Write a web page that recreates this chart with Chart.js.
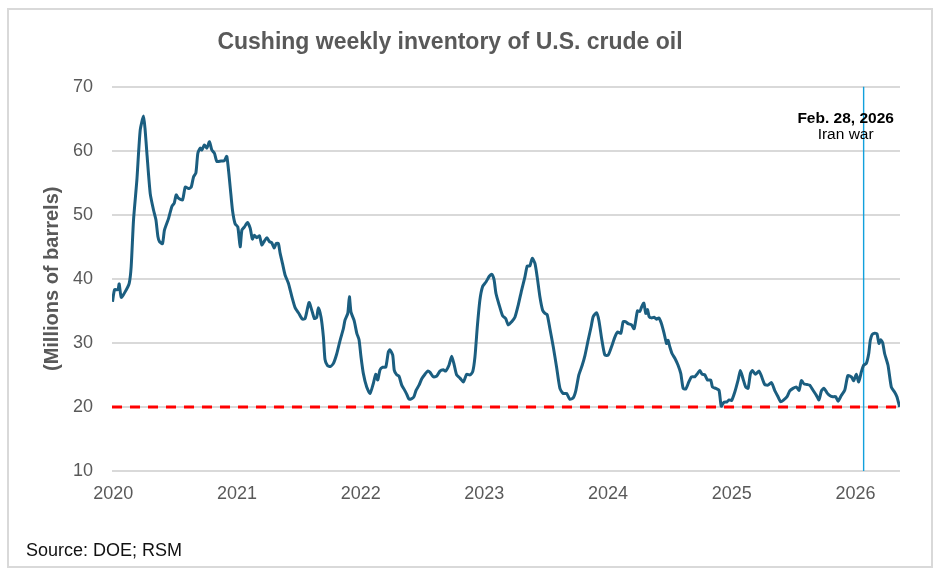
<!DOCTYPE html>
<html>
<head>
<meta charset="utf-8">
<title>Cushing weekly inventory of U.S. crude oil</title>
<script src="https://cdn.jsdelivr.net/npm/chart.js@4.4.1/dist/chart.umd.min.js"></script>
<style>
  body { margin: 0; background: #fff; }
  #wrap { position: relative; width: 942px; height: 580px; }
  #frame { position: absolute; left: 7px; top: 8px; width: 926px; height: 560px;
           border: 2px solid #d9d9d9; box-sizing: border-box; }
  #source { position: absolute; left: 26px; top: 541px; font: 18px/18px "Liberation Sans", Arial, sans-serif; color: #111; }
  canvas { position: absolute; left: 0; top: 0; }
</style>
</head>
<body>
<div id="wrap">
  <div id="frame"></div>
  <canvas id="myChart" width="942" height="580"></canvas>
  <div id="source">Source: DOE; RSM</div>
</div>
<script>
// weekly readings, x as decimal year
var weekYear = [
  2019.994, 2020.011, 2020.038, 2020.048, 2020.065, 2020.097, 2020.129, 2020.145, 2020.164, 2020.191,
  2020.218, 2020.245, 2020.258, 2020.272, 2020.299, 2020.326, 2020.345, 2020.361, 2020.374, 2020.398,
  2020.414, 2020.447, 2020.474, 2020.493, 2020.509, 2020.527, 2020.560, 2020.582, 2020.608, 2020.630,
  2020.649, 2020.668, 2020.684, 2020.703, 2020.716, 2020.737, 2020.757, 2020.778, 2020.797, 2020.818,
  2020.838, 2020.872, 2020.897, 2020.918, 2020.945, 2020.964, 2020.985, 2021.007, 2021.026, 2021.040,
  2021.061, 2021.085, 2021.107, 2021.125, 2021.141, 2021.161, 2021.182, 2021.201, 2021.222, 2021.242,
  2021.263, 2021.282, 2021.301, 2021.317, 2021.335, 2021.349, 2021.368, 2021.389, 2021.416, 2021.444,
  2021.470, 2021.497, 2021.529, 2021.551, 2021.583, 2021.605, 2021.626, 2021.645, 2021.658, 2021.680,
  2021.699, 2021.712, 2021.731, 2021.753, 2021.780, 2021.807, 2021.834, 2021.860, 2021.874, 2021.896,
  2021.909, 2021.922, 2021.947, 2021.969, 2021.987, 2022.003, 2022.022, 2022.049, 2022.076, 2022.103,
  2022.122, 2022.138, 2022.157, 2022.179, 2022.203, 2022.224, 2022.237, 2022.259, 2022.272, 2022.292,
  2022.310, 2022.332, 2022.353, 2022.372, 2022.391, 2022.413, 2022.431, 2022.448, 2022.472, 2022.494,
  2022.520, 2022.542, 2022.561, 2022.587, 2022.615, 2022.641, 2022.668, 2022.687, 2022.714, 2022.736,
  2022.757, 2022.776, 2022.803, 2022.830, 2022.857, 2022.884, 2022.906, 2022.924, 2022.943, 2022.964,
  2022.986, 2023.013, 2023.040, 2023.059, 2023.078, 2023.094, 2023.120, 2023.148, 2023.172, 2023.193,
  2023.221, 2023.247, 2023.274, 2023.301, 2023.328, 2023.347, 2023.368, 2023.387, 2023.409, 2023.427,
  2023.449, 2023.471, 2023.490, 2023.508, 2023.530, 2023.557, 2023.584, 2023.611, 2023.637, 2023.665,
  2023.691, 2023.718, 2023.740, 2023.764, 2023.791, 2023.813, 2023.839, 2023.864, 2023.880, 2023.907,
  2023.926, 2023.948, 2023.974, 2024.001, 2024.028, 2024.055, 2024.077, 2024.103, 2024.122, 2024.141,
  2024.162, 2024.190, 2024.211, 2024.238, 2024.257, 2024.271, 2024.289, 2024.305, 2024.319, 2024.332,
  2024.351, 2024.372, 2024.392, 2024.410, 2024.432, 2024.453, 2024.473, 2024.485, 2024.499, 2024.518,
  2024.540, 2024.566, 2024.588, 2024.607, 2024.628, 2024.653, 2024.675, 2024.701, 2024.723, 2024.742,
  2024.760, 2024.782, 2024.804, 2024.830, 2024.844, 2024.871, 2024.897, 2024.915, 2024.935, 2024.962,
  2024.978, 2024.998, 2025.024, 2025.051, 2025.070, 2025.091, 2025.113, 2025.132, 2025.151, 2025.167,
  2025.191, 2025.221, 2025.240, 2025.267, 2025.293, 2025.321, 2025.347, 2025.374, 2025.396, 2025.420,
  2025.447, 2025.469, 2025.495, 2025.523, 2025.544, 2025.563, 2025.584, 2025.608, 2025.630, 2025.657,
  2025.684, 2025.705, 2025.725, 2025.746, 2025.770, 2025.792, 2025.818, 2025.840, 2025.859, 2025.886,
  2025.913, 2025.939, 2025.967, 2025.986, 2026.007, 2026.026, 2026.048, 2026.066, 2026.088, 2026.107,
  2026.120, 2026.135, 2026.155, 2026.174, 2026.190, 2026.204, 2026.220, 2026.236, 2026.263, 2026.290,
  2026.317, 2026.335, 2026.357
];

// millions of barrels
var stocks = [
  36.4, 38.3, 38.3, 39.2, 37.1, 38.0, 39.3, 41.9, 49.2, 55.4,
  63.2, 65.4, 63.2, 59.6, 53.3, 50.7, 49.2, 46.6, 45.8, 45.5,
  47.6, 49.4, 51.3, 51.8, 53.1, 52.6, 52.3, 54.3, 54.1, 54.3,
  55.9, 56.5, 59.6, 60.4, 60.1, 60.9, 60.4, 61.4, 60.1, 59.6,
  58.3, 58.4, 58.4, 59.1, 54.4, 50.7, 48.6, 48.1, 45.0, 47.6,
  48.1, 48.8, 47.9, 46.2, 46.8, 46.4, 46.7, 45.3, 45.9, 46.4,
  45.8, 45.6, 44.8, 45.5, 45.5, 44.0, 42.4, 40.6, 39.3, 37.2,
  35.5, 34.7, 33.7, 33.8, 36.3, 35.1, 33.8, 34.0, 35.5, 34.0,
  30.9, 27.4, 26.5, 26.3, 26.8, 28.3, 30.4, 32.2, 33.6, 34.6,
  37.2, 34.8, 33.5, 31.5, 30.5, 27.8, 25.2, 23.1, 22.1, 23.7,
  25.1, 24.2, 25.8, 26.2, 26.2, 28.6, 28.9, 28.1, 25.7, 25.0,
  24.8, 23.4, 22.7, 22.0, 21.2, 21.3, 21.6, 22.6, 23.4, 24.4,
  25.1, 25.6, 25.4, 24.7, 24.8, 25.6, 25.8, 25.6, 26.5, 27.9,
  26.5, 25.0, 24.5, 23.9, 25.1, 25.0, 25.5, 27.8, 32.5, 36.7,
  38.8, 39.5, 40.4, 40.7, 39.9, 37.7, 35.9, 34.2, 33.8, 32.8,
  33.3, 34.0, 35.9, 38.2, 40.3, 42.0, 42.0, 43.2, 42.4, 40.3,
  37.2, 35.1, 34.6, 34.4, 32.2, 29.4, 26.2, 22.9, 22.1, 22.1,
  21.2, 21.4, 22.6, 25.0, 26.5, 28.0, 30.4, 32.6, 34.1, 34.7,
  33.5, 30.7, 28.1, 28.1, 29.4, 30.9, 31.7, 31.5, 33.3, 33.3,
  33.0, 32.8, 32.2, 35.0, 34.9, 35.6, 36.2, 34.6, 35.2, 34.1,
  33.9, 34.0, 33.7, 33.9, 33.0, 31.5, 29.9, 30.4, 29.4, 28.3,
  27.6, 26.5, 25.2, 22.9, 22.8, 23.9, 24.7, 24.7, 25.2, 25.7,
  25.1, 25.0, 24.2, 24.2, 23.1, 22.9, 22.6, 20.1, 20.7, 20.8,
  21.1, 21.0, 22.3, 24.2, 25.7, 24.4, 23.1, 22.9, 25.2, 25.7,
  25.1, 25.6, 24.8, 23.5, 23.4, 23.8, 22.6, 21.6, 20.8, 21.1,
  21.6, 22.5, 22.9, 23.1, 22.6, 24.1, 23.6, 23.5, 23.4, 22.6,
  21.8, 21.1, 22.5, 22.9, 22.2, 21.8, 21.6, 21.6, 20.9, 21.8,
  22.6, 24.9, 24.7, 24.1, 25.1, 23.9, 25.5, 26.5, 26.8, 28.3,
  30.4, 31.3, 31.5, 31.4, 29.9, 30.5, 30.0, 28.3, 26.5, 23.1,
  22.3, 21.6, 20.0
];

var yTicks = [10, 20, 30, 40, 50, 60, 70];
var xTickYears = [2020, 2021, 2022, 2023, 2024, 2025, 2026];
var xRange = [2019.99, 2026.36];
var floorLevel = 20;
var eventYear = 2026.066;
var eventText = ['Feb. 28, 2026', 'Iran war'];

var fontFamily = '"Liberation Sans", Arial, sans-serif';
var grey = '#595959';

var eventLabelPlugin = {
  id: 'eventLabel',
  afterDatasetsDraw: function(chart) {
    var ctx = chart.ctx;
    var px = chart.scales.x.getPixelForValue(eventYear);
    var top = chart.chartArea.top;
    ctx.save();
    ctx.fillStyle = '#000';
    ctx.textAlign = 'center';
    ctx.textBaseline = 'middle';
    ctx.font = 'bold 15.5px ' + fontFamily;
    ctx.fillText(eventText[0], px - 18, top + 32);
    ctx.font = '15.5px ' + fontFamily;
    ctx.fillText(eventText[1], px - 18, top + 48);
    ctx.restore();
  }
};

var points = weekYear.map(function(x, i) { return { x: x, y: stocks[i] }; });

var ctx = document.getElementById('myChart').getContext('2d');
var chart = new Chart(ctx, {
  type: 'line',
  data: {
    datasets: [{
      label: 'Cushing inventory',
      data: points,
      borderColor: '#1b5e80',
      borderWidth: 3,
      pointRadius: 0,
      tension: 0.2,
      fill: false
    }, {
      label: 'event',
      data: [{ x: eventYear, y: yTicks[0] }, { x: eventYear, y: yTicks[yTicks.length - 1] }],
      borderColor: '#12a0dc',
      borderWidth: 1.4,
      pointRadius: 0
    }, {
      label: 'floor',
      data: [{ x: xRange[0], y: floorLevel }, { x: xRange[1], y: floorLevel }],
      borderColor: '#ff0000',
      borderWidth: 3,
      borderDash: [10, 8],
      pointRadius: 0
    }]
  },
  options: {
    responsive: false,
    animation: false,
    layout: { padding: { top: 0, left: 0, right: 42, bottom: 0 } },
    plugins: {
      legend: { display: false },
      tooltip: { enabled: false },
      title: {
        display: true,
        text: 'Cushing weekly inventory of U.S. crude oil',
        color: grey,
        font: { family: fontFamily, size: 23, weight: 'bold' },
        padding: { top: 29, bottom: 30 }
      }
    },
    scales: {
      x: {
        type: 'linear',
        min: xRange[0],
        max: xRange[1],
        afterBuildTicks: function(axis) {
          axis.ticks = xTickYears.map(function(v) { return { value: v }; });
        },
        afterFit: function(scale) { scale.height = 109; },
        ticks: {
          color: grey,
          padding: 4,
          maxRotation: 0,
          font: { family: fontFamily, size: 18 },
          callback: function(v) { return String(v); }
        },
        grid: { display: false },
        border: { display: false }
      },
      y: {
        min: 10,
        max: 70,
        afterBuildTicks: function(axis) {
          axis.ticks = yTicks.map(function(v) { return { value: v }; });
        },
        afterFit: function(scale) { scale.width = 112; },
        ticks: {
          color: grey,
          padding: 19,
          font: { family: fontFamily, size: 18 }
        },
        grid: { color: '#d9d9d9', lineWidth: 2, drawTicks: false },
        border: { display: false },
        title: {
          display: true,
          text: '(Millions of barrels)',
          color: grey,
          font: { family: fontFamily, size: 20, weight: 'bold' },
          padding: { top: 40 }
        }
      }
    }
  },
  plugins: [eventLabelPlugin]
});
</script>
</body>
</html>
